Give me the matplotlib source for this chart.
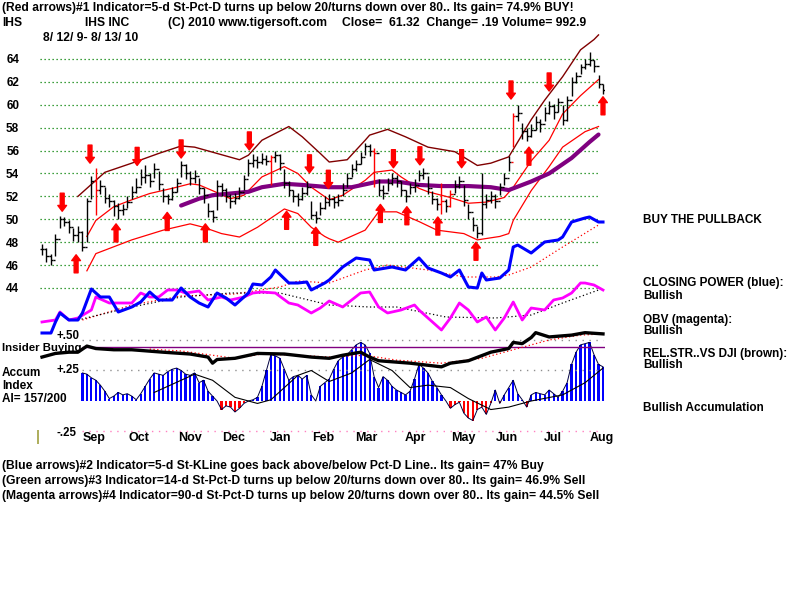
import matplotlib
matplotlib.use("Agg")  # no display, just save the png
import matplotlib.pyplot as plt
from matplotlib.transforms import blended_transform_factory

# ── price bars: IHS 8/12/09 - 8/13/10, one bar per ~2 trading days ──
closes = [47.4, 46.8, 46.4, 48.3, 50.0, 49.8, 49.3, 48.6, 48.9, 47.6,
          51.6, 53.3, 52.6, 52.9, 51.9, 51.6, 51.2, 50.8, 50.9, 51.5,
          52.4, 52.8, 53.7, 53.9, 53.3, 54.4, 53.1, 52.0, 51.8, 52.4,
          53.2, 54.7, 54.0, 53.6, 53.8, 52.7, 52.1, 50.7, 50.2, 52.9,
          52.6, 52.0, 51.6, 51.9, 52.4, 53.5, 54.9, 55.2, 55.0, 55.3,
          55.1, 55.4, 55.6, 54.9, 53.2, 52.6, 52.0, 51.8, 52.3, 52.8,
          50.4, 50.1, 51.0, 51.5, 51.8, 51.5, 51.7, 52.6, 53.6, 54.4,
          54.8, 55.4, 56.4, 56.0, 55.8, 52.6, 52.3, 53.2, 53.6, 53.3,
          52.6, 52.0, 52.8, 53.0, 53.9, 54.0, 52.7, 51.8, 51.3, 51.6,
          51.2, 52.2, 52.9, 53.3, 51.7, 50.6, 49.5, 48.8, 51.3, 51.7,
          52.0, 51.6, 52.8, 53.6, 55.0, 59.0, 59.3, 57.7, 57.3, 57.8,
          58.5, 58.3, 59.3, 59.9, 59.4, 60.2, 58.7, 60.4, 62.0, 62.5,
          63.3, 63.6, 63.9, 63.4, 61.8, 61.3]
highs = [47.8, 47.5, 47.0, 48.7, 50.3, 50.2, 49.9, 49.2, 49.4, 49.0,
         51.9, 53.8, 54.5, 53.4, 52.8, 52.2, 51.7, 51.4, 51.3, 52.0,
         52.9, 53.6, 54.4, 54.7, 54.0, 54.9, 54.2, 52.7, 52.2, 52.8,
         53.6, 55.1, 54.8, 54.2, 54.3, 53.6, 52.7, 51.4, 50.8, 53.4,
         53.2, 52.7, 52.2, 52.3, 52.8, 53.9, 55.3, 55.7, 55.5, 55.8,
         55.6, 55.6, 56.0, 55.7, 54.4, 53.3, 52.6, 52.3, 52.8, 53.3,
         51.6, 50.7, 51.5, 52.0, 52.2, 52.0, 52.2, 53.2, 54.0, 54.8,
         55.2, 55.9, 56.7, 56.6, 56.2, 53.5, 53.0, 53.6, 54.0, 53.9,
         53.3, 52.6, 53.2, 53.5, 54.3, 54.5, 53.8, 52.5, 51.9, 53.2,
         51.8, 52.6, 53.4, 53.8, 53.0, 51.3, 50.2, 49.4, 54.0, 52.2,
         52.5, 52.2, 53.2, 54.0, 55.5, 59.3, 60.0, 58.4, 58.0, 58.3,
         59.0, 58.8, 59.8, 60.3, 60.1, 60.6, 60.0, 60.8, 62.4, 62.9,
         63.6, 64.0, 64.6, 63.9, 62.6, 61.8]
lows = [46.9, 46.3, 46.0, 46.8, 49.2, 49.4, 48.8, 48.1, 48.0, 47.2,
        48.0, 51.8, 50.4, 52.2, 51.4, 51.1, 50.3, 50.0, 50.4, 51.0,
        51.8, 52.3, 53.0, 53.2, 52.8, 53.6, 52.6, 51.5, 51.3, 51.7,
        52.4, 53.7, 53.5, 53.0, 53.2, 52.2, 51.4, 50.2, 49.8, 50.8,
        52.0, 51.5, 51.0, 51.3, 51.8, 52.6, 53.8, 54.6, 54.5, 54.8,
        54.7, 53.0, 55.0, 54.3, 52.7, 52.0, 51.5, 51.2, 51.7, 52.1,
        50.0, 49.7, 50.4, 50.9, 51.2, 51.0, 51.2, 52.0, 52.8, 53.7,
        54.2, 54.8, 55.6, 55.5, 52.8, 52.0, 51.8, 52.5, 53.0, 52.8,
        52.0, 51.5, 52.2, 52.4, 53.3, 53.5, 52.2, 51.3, 50.8, 50.5,
        50.6, 51.1, 52.3, 52.7, 51.2, 50.0, 49.0, 48.4, 48.6, 51.0,
        51.4, 51.0, 52.1, 53.0, 54.2, 56.3, 58.6, 57.0, 56.8, 57.2,
        57.8, 57.6, 58.6, 59.2, 58.8, 59.4, 58.2, 58.6, 60.8, 61.9,
        62.7, 63.1, 63.4, 62.9, 61.5, 60.9]
red_bars = [12, 51, 74, 89, 91, 105]

# bands (read at bar index, price)
upper_x = [8, 12, 14, 20, 26, 31, 34, 39, 44, 46, 49, 55, 58, 62, 64, 68, 72, 73,
           77, 81, 86, 92, 97, 100, 104, 109, 112, 116, 120, 123, 124]
upper_y = [52.0, 53.4, 54.1, 54.9, 55.75, 56.4, 56.3, 55.75, 55.2, 55.6, 56.9, 58.1,
           57.2, 55.75, 55.0, 55.2, 56.9, 57.35, 57.85, 57.2, 56.3, 55.9, 54.7, 54.9,
           55.45, 58.7, 60.4, 62.45, 64.8, 65.7, 66.1]
mid_x = [10, 12, 16, 20, 24, 29, 33, 35, 38, 42, 45, 49, 54, 57, 60, 64, 67, 72, 74,
         78, 80, 84, 86, 91, 95, 99, 103, 105, 109, 113, 116, 120, 124]
mid_y = [48.5, 49.9, 51.1, 51.7, 52.25, 52.7, 53.1, 53.0, 52.5, 51.8, 52.1, 53.7, 54.6,
         54.0, 52.8, 51.7, 52.1, 53.4, 54.1, 54.3, 53.7, 52.7, 52.4, 51.9, 51.4, 51.5,
         51.9, 52.8, 55.1, 56.9, 59.2, 60.8, 62.2]
lower_x = [10, 12, 20, 27, 33, 36, 40, 44, 48, 54, 57, 60, 63, 64, 66, 72, 75, 79, 84,
           88, 94, 97, 102, 104, 105, 109, 113, 116, 121, 124]
lower_y = [45.5, 47.0, 48.2, 49.05, 49.6, 49.3, 48.75, 48.45, 49.3, 50.9, 50.5, 49.3,
           48.5, 48.3, 48.0, 49.05, 50.65, 50.65, 49.8, 49.05, 48.75, 48.2, 48.5, 48.75,
           49.9, 52.5, 54.6, 56.3, 57.65, 58.1]
ma_x = [31, 35, 38, 42, 46, 49, 54, 58, 64, 69, 75, 79, 84, 89, 95, 100, 104, 109,
        113, 118, 122, 124]
ma_y = [51.2, 51.8, 52.1, 52.25, 52.4, 52.8, 53.1, 53.0, 52.8, 52.8, 53.3, 53.3, 53.0,
        52.9, 52.9, 52.8, 52.55, 53.3, 54.0, 55.35, 56.75, 57.4]

# signal arrows (bar index, price at arrow tip)
down_x = [4.5, 10.7, 21.2, 31, 46.2, 59.6, 63.8, 78.3, 84.2, 93.5, 104.5, 113]
down_y = [50.7, 54.9, 54.7, 55.35, 56.05, 54.05, 52.7, 54.5, 54.75, 54.5, 60.5, 61.2]
up_x = [7.6, 16.5, 27.9, 36.4, 54.5, 61, 75.4, 81.3, 88.2, 96.7, 108.5, 125]
up_y = [46.9, 49.6, 50.6, 49.6, 50.7, 49.3, 51.3, 51.1, 50.2, 48.0, 56.3, 60.7]

# closing power (blue) + its MA, OBV (magenta) + its MA, relative units
cp_x = [0, 2, 3, 4, 6, 8, 9, 11, 13, 15, 17, 20, 22, 24, 26, 29, 31, 33, 35, 37, 39,
        41, 43, 46, 47, 49, 51, 52, 55, 57, 59, 60, 63, 64, 67, 70, 73, 74, 78, 81, 84,
        86, 89, 91, 93, 95, 97, 98, 99, 102, 104, 105, 106, 109, 112, 115, 116, 118,
        121, 122, 124, 125]
cp_y = [7, 7, 18, 27, 20, 20, 27, 51, 43, 43, 28, 33, 38, 48, 40, 40, 52, 43, 37, 33,
        47, 42, 35, 47, 56, 55, 63, 70, 57, 57, 58, 50, 57, 60, 73, 82, 80, 70, 73, 70,
        82, 72, 67, 63, 70, 53, 52, 67, 60, 62, 70, 93, 95, 87, 98, 100, 103, 118, 122,
        123, 118, 118]
cp_ma_x = [9, 20, 31, 43, 53, 57, 64, 72, 77, 86, 94, 101, 104, 109, 116, 124]
cp_ma_y = [20, 35, 44, 46, 53, 59, 57, 70, 75, 70, 63, 63, 65, 73, 93, 115]
obv_x = [0, 3, 4, 6, 8, 11, 12, 15, 17, 20, 22, 24, 26, 28, 30, 32, 35, 37, 40, 42,
         45, 47, 49, 52, 55, 57, 60, 62, 64, 67, 71, 73, 75, 77, 80, 83, 84, 86, 89,
         91, 93, 95, 97, 99, 101, 103, 105, 107, 109, 112, 114, 116, 118, 120, 121,
         123, 125]
obv_y = [18, 20, 28, 20, 22, 30, 43, 37, 37, 37, 47, 43, 43, 50, 50, 47, 49, 40, 43,
         40, 43, 47, 48, 47, 37, 35, 27, 32, 39, 33, 47, 48, 33, 27, 30, 35, 30, 22, 10,
         22, 37, 30, 18, 23, 10, 22, 38, 20, 32, 30, 40, 42, 47, 57, 57, 55, 50]
obv_ma_x = [8, 20, 31, 42, 53, 64, 73, 79, 90, 101, 109, 116, 124]
obv_ma_y = [20, 33, 43, 47, 47, 35, 33, 33, 23, 22, 25, 37, 50]

# insider buying (black) + MA, accumulation index histogram + MA
ins_x = [0, 3, 6, 8, 10, 12, 16, 20, 27, 33, 37, 38, 39, 43, 48, 54, 60, 64, 67, 71,
         73, 75, 82, 89, 91, 95, 100, 104, 105, 107, 109, 110, 113, 118, 121, 125]
ins_y = [0.36, 0.39, 0.40, 0.40, 0.45, 0.43, 0.42, 0.42, 0.40, 0.385, 0.36, 0.31,
         0.34, 0.35, 0.39, 0.385, 0.36, 0.35, 0.375, 0.40, 0.36, 0.33, 0.31, 0.28,
         0.31, 0.33, 0.40, 0.43, 0.48, 0.47, 0.52, 0.56, 0.525, 0.54, 0.56, 0.55]
ins_ma_x = [24, 31, 38, 43, 49, 57, 64, 72, 79, 89, 98, 105, 113, 120, 125]
ins_ma_y = [0.425, 0.41, 0.375, 0.35, 0.385, 0.375, 0.36, 0.375, 0.335, 0.31, 0.35,
            0.42, 0.50, 0.54, 0.55]
accum = [0.23, 0.22, 0.19, 0.17, 0.13, 0.08, 0.02, 0.04, 0.07, 0.05,
         0.06, 0.04, 0.01, 0.06, 0.12, 0.18, 0.23, 0.22, 0.21, 0.24,
         0.26, 0.27, 0.25, 0.22, 0.21, 0.23, 0.15, 0.17, 0.08, 0.04,
         0.00, -0.07, -0.04, -0.05, -0.09, -0.06, -0.02, 0.00, 0.01, 0.03,
         0.12, 0.25, 0.38, 0.37, 0.35, 0.26, 0.17, 0.20, 0.21, 0.18,
         0.21, 0.05, 0.00, 0.12, 0.15, 0.18, 0.26, 0.33, 0.36, 0.38,
         0.42, 0.46, 0.48, 0.46, 0.39, 0.20, 0.11, 0.20, 0.17, 0.12,
         0.09, 0.07, 0.05, 0.08, 0.18, 0.30, 0.27, 0.23, 0.16, 0.11,
         0.05, 0.00, -0.06, -0.03, -0.01, -0.10, -0.14, -0.16, -0.07, -0.05,
         -0.11, -0.02, 0.09, -0.02, 0.05, 0.11, 0.17, 0.06, 0.01, -0.05,
         0.05, 0.07, 0.06, 0.05, 0.09, 0.06, 0.03, 0.08, 0.15, 0.30,
         0.40, 0.46, 0.47, 0.48, 0.38, 0.30, 0.28]
accum_start = 9
acc_ma_x = [25, 34, 38, 43, 48, 51, 54, 57, 60, 64, 69, 73, 78, 82, 86, 91, 95, 100,
            104, 109, 116, 121, 125]
acc_ma_y = [0.07, 0.22, 0.17, 0.03, -0.02, 0.01, 0.11, 0.21, 0.25, 0.16, 0.23, 0.34,
            0.25, 0.11, 0.13, 0.11, 0.02, -0.07, -0.05, 0.0, 0.05, 0.15, 0.27]
insider_level = 0.44

price_levels = [64, 62, 60, 58, 56, 54, 52, 50, 48, 46, 44]
months = ["Sep", "Oct", "Nov", "Dec", "Jan", "Feb", "Mar", "Apr", "May", "Jun", "Jul", "Aug"]
month_pos = [11.6, 21.6, 33.0, 42.8, 53.2, 62.6, 72.2, 83.1, 94.0, 103.6, 113.9, 124.8]

BOLD = ["Liberation Sans", "DejaVu Sans"]

fig = plt.figure(figsize=(8, 6), dpi=100)
fig.patch.set_facecolor("white")
W, H = 800.0, 600.0


def box(left, top, right, bottom):
    # pixel box -> figure fraction rect
    return [left / W, 1 - bottom / H, (right - left) / W, (bottom - top) / H]


XLIM = (-0.446, 125.446)
ax = fig.add_axes(box(40, 30, 605, 300))
ax_ind = fig.add_axes(box(40, 200, 605, 340))
ax_low = fig.add_axes(box(40, 320, 605, 445))
for a in (ax, ax_ind, ax_low):
    a.set_xlim(*XLIM)
    a.patch.set_alpha(0)
    for s in a.spines.values():
        s.set_visible(False)
    a.set_xticks([])
    a.set_yticks([])
ax.set_ylim(42.95, 66.53)
ax_ind.set_ylim(0, 140)
ax_low.set_ylim(-0.3607, 0.6639)

# ── price panel ──
ax.hlines(price_levels, -0.45, 124.3, colors="#008000", linestyles=(0, (1, 2.2)), lw=0.9)
ax.set_yticks(price_levels)
ax.set_yticklabels([str(v) for v in price_levels], fontsize=8.5, fontweight="bold", family=BOLD)
ax.tick_params(axis="y", length=0, pad=15)

ax.plot(upper_x, upper_y, color="#800000", lw=1.0)
ax.plot(mid_x, mid_y, color="#ff0000", lw=0.9)
ax.plot(lower_x, lower_y, color="#ff0000", lw=0.9)
ax.plot(ma_x, ma_y, color="#800080", lw=3.0, solid_capstyle="round")

idx = list(range(len(closes)))
opens = [closes[0]] + closes[:-1]
black = [i for i in idx if i not in red_bars]
for group, col in ((black, "black"), (red_bars, "#ff0000")):
    ax.vlines(group, [lows[i] for i in group], [highs[i] for i in group], colors=col, lw=1.0)
    ax.hlines([closes[i] for i in group], group, [i + 0.5 for i in group], colors=col, lw=1.0)
    ax.hlines([opens[i] for i in group], [i - 0.5 for i in group], group, colors=col, lw=1.0)

arrow = dict(arrowstyle="simple,head_length=0.6,head_width=0.9,tail_width=0.4",
             color="#ff0000", mutation_scale=7, shrinkA=0, shrinkB=0)
for x, y in zip(down_x, down_y):
    ax.annotate("", xy=(x, y), xytext=(0, 13), textcoords="offset points", arrowprops=arrow)
for x, y in zip(up_x, up_y):
    ax.annotate("", xy=(x, y), xytext=(0, -13), textcoords="offset points", arrowprops=arrow)

# ── closing power / OBV ──
ax_ind.plot(cp_ma_x, cp_ma_y, color="#ff0000", lw=0.9, ls=(0, (1, 2)))
ax_ind.plot(obv_ma_x, obv_ma_y, color="black", lw=0.9, ls=(0, (1, 2)))
ax_ind.plot(obv_x, obv_y, color="#ff00ff", lw=2.0)
ax_ind.plot(cp_x, cp_y, color="#0000ff", lw=2.2)

# ── insider buying + accumulation index ──
ax_low.hlines([0.5, 0.25], 9, 125, colors="#909090", linestyles=(0, (1, 4)), lw=1.0)
ax_low.hlines([-0.25], 9, 125, colors="#ff80c0", linestyles=(0, (1, 4)), lw=1.0)
acc_x = list(range(accum_start, accum_start + len(accum)))
acc_col = ["#0000ff" if v >= 0 else "#ff0000" for v in accum]
ax_low.bar(acc_x, accum, width=0.5, color=acc_col, linewidth=0)
ax_low.plot(acc_x, accum, color="#000040", lw=0.7)
ax_low.plot(acc_ma_x, acc_ma_y, color="black", lw=0.8)
ax_low.hlines([insider_level], accum_start, 126, colors="#800080", lw=1.0)
ax_low.plot(ins_ma_x, ins_ma_y, color="#ff0000", lw=0.9, ls=(0, (1, 2)))
ax_low.plot(ins_x, ins_y, color="black", lw=2.4)

lbl = blended_transform_factory(fig.transFigure, ax_low.transData)
for v, s in ((0.535, "+.50"), (0.25, "+.25"), (-0.26, "-.25")):
    ax_low.text(57 / W, v, s, transform=lbl, fontsize=8.3, fontweight="bold",
                family=BOLD, va="center", ha="left")
for p, m in zip(month_pos, months):
    ax_low.text(p, -0.30, m, fontsize=9, fontweight="bold", family=BOLD,
                ha="center", va="center")


def ftext(x, y, s, **kw):
    kw.setdefault("fontsize", 8.5)
    kw.setdefault("family", BOLD)
    kw.setdefault("fontweight", "bold")
    fig.text(x / W, 1 - y / H, s, va="center", ha="left", **kw)


# ── header / footer ──
hdr = dict(fontsize=8.7)
ftext(2, 8, "(Red arrows)#1 Indicator=5-d St-Pct-D turns up below 20/turns down over 80.. "
      "Its gain= 74.9% BUY!", **hdr)
ftext(2, 23, "IHS", **hdr)
ftext(85, 23, "IHS INC", **hdr)
ftext(168, 23, "(C) 2010 www.tigersoft.com", **hdr)
ftext(342, 23, "Close=  61.32  Change= .19 Volume= 992.9", **hdr)
ftext(43, 38, "8/ 12/ 9- 8/ 13/ 10", **hdr)
ftext(2, 466, "(Blue arrows)#2 Indicator=5-d St-KLine goes back above/below Pct-D Line.. "
      "Its gain= 47% Buy", **hdr)
ftext(2, 481, "(Green arrows)#3 Indicator=14-d St-Pct-D turns up below 20/turns down over 80.. "
      "Its gain= 46.9% Sell", **hdr)
ftext(2, 496, "(Magenta arrows)#4 Indicator=90-d St-Pct-D turns up below 20/turns down over 80.. "
      "Its gain= 44.5% Sell", **hdr)

# ── side labels ──
ftext(2, 348, "Insider Buying", fontsize=8.2)
ftext(2, 373, "Accum")
ftext(2, 386, "Index")
ftext(2, 399, "AI= 157/200")
ftext(36, 437, "|", color="#808000", fontweight="normal", fontsize=11)

ftext(643, 220, "BUY THE PULLBACK")
ftext(643, 283, "CLOSING POWER (blue):")
ftext(643, 296, "Bullish")
ftext(643, 320, "OBV (magenta):")
ftext(643, 331, "Bullish")
ftext(643, 354, "REL.STR..VS DJI (brown):")
ftext(643, 365, "Bullish")
ftext(643, 408, "Bullish Accumulation")

fig.savefig("out.png", dpi=100, facecolor="white")
